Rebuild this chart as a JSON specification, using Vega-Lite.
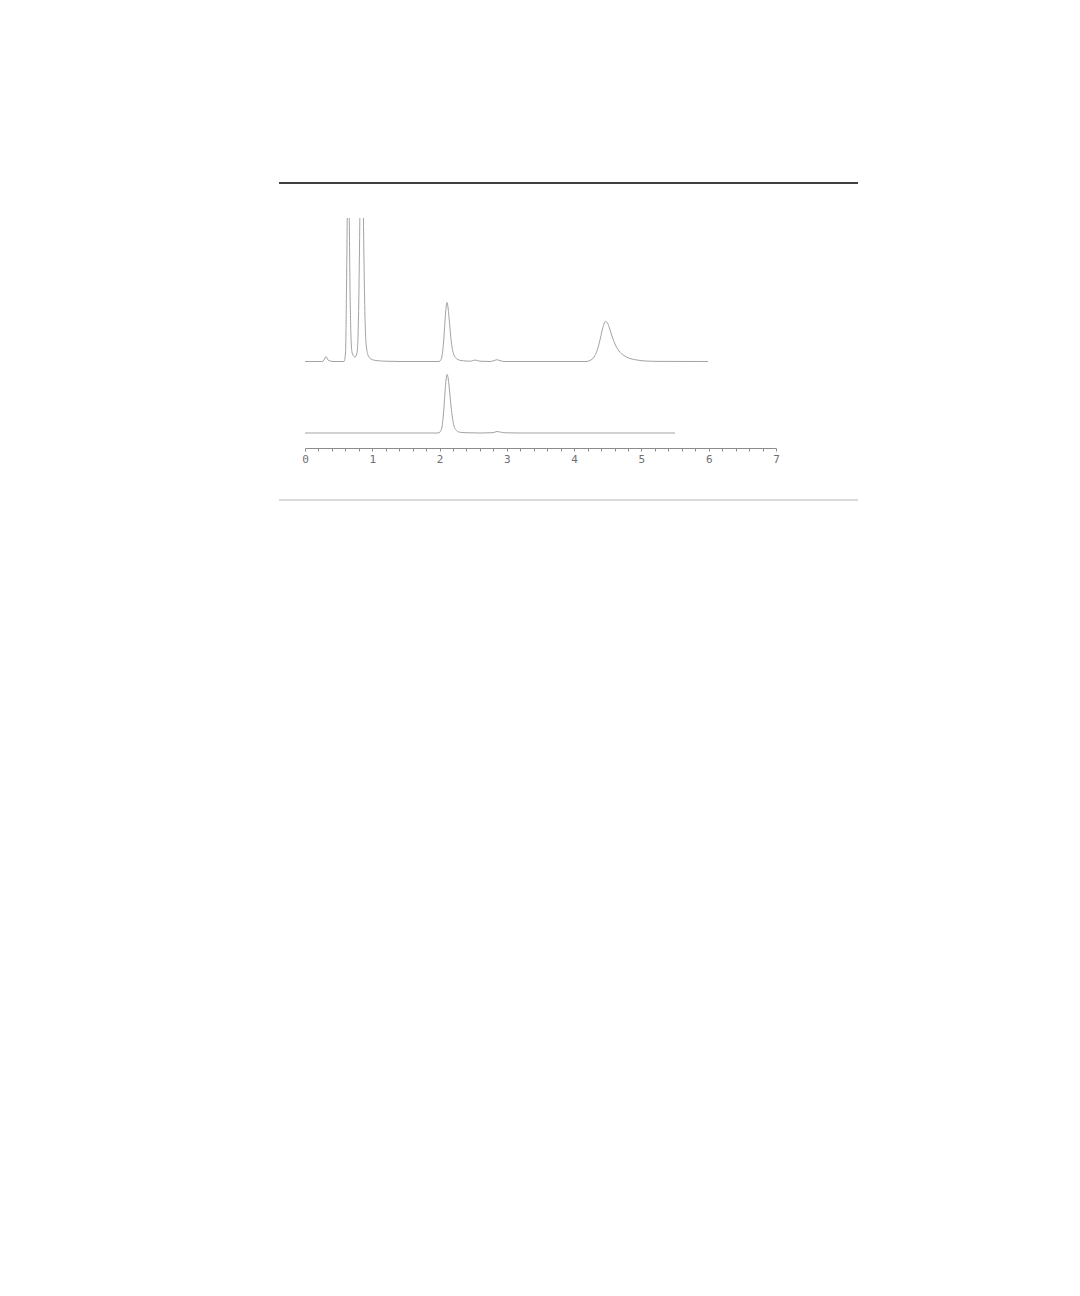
{
  "$schema": "https://vega.github.io/schema/vega-lite/v6.json",
  "autosize": "none",
  "padding": {"left": 305, "top": 218, "right": 304, "bottom": 848},
  "width": 471,
  "height": 230,
  "background": "white",
  "config": {"view": {"stroke": null}},
  "data": {
    "values": [
      {"run": "rule_top", "time": -0.3864, "time_end": 8.2187, "signal": 265},
      {"run": "rule_bottom", "time": -0.3864, "time_end": 8.2187, "signal": -52},
      {"run": "sample", "time": 0.0, "signal": 86.5},
      {"run": "sample", "time": 0.253, "signal": 86.5},
      {"run": "sample", "time": 0.282, "signal": 88},
      {"run": "sample", "time": 0.312, "signal": 91.5},
      {"run": "sample", "time": 0.342, "signal": 88},
      {"run": "sample", "time": 0.372, "signal": 87},
      {"run": "sample", "time": 0.431, "signal": 86.5},
      {"run": "sample", "time": 0.58, "signal": 86.5},
      {"run": "sample", "time": 0.602, "signal": 95},
      {"run": "sample", "time": 0.617, "signal": 160},
      {"run": "sample", "time": 0.632, "signal": 260},
      {"run": "sample", "time": 0.643, "signal": 330},
      {"run": "sample", "time": 0.654, "signal": 260},
      {"run": "sample", "time": 0.669, "signal": 160},
      {"run": "sample", "time": 0.684, "signal": 110},
      {"run": "sample", "time": 0.698, "signal": 96},
      {"run": "sample", "time": 0.728, "signal": 91.5},
      {"run": "sample", "time": 0.743, "signal": 91},
      {"run": "sample", "time": 0.773, "signal": 95},
      {"run": "sample", "time": 0.795, "signal": 130},
      {"run": "sample", "time": 0.81, "signal": 200},
      {"run": "sample", "time": 0.825, "signal": 290},
      {"run": "sample", "time": 0.843, "signal": 340},
      {"run": "sample", "time": 0.859, "signal": 290},
      {"run": "sample", "time": 0.874, "signal": 200},
      {"run": "sample", "time": 0.892, "signal": 130},
      {"run": "sample", "time": 0.907, "signal": 105},
      {"run": "sample", "time": 0.936, "signal": 93},
      {"run": "sample", "time": 0.981, "signal": 89},
      {"run": "sample", "time": 1.055, "signal": 87.5},
      {"run": "sample", "time": 1.189, "signal": 86.8},
      {"run": "sample", "time": 1.412, "signal": 86.5},
      {"run": "sample", "time": 1.977, "signal": 86.5},
      {"run": "sample", "time": 2.006, "signal": 87},
      {"run": "sample", "time": 2.036, "signal": 92},
      {"run": "sample", "time": 2.058, "signal": 105},
      {"run": "sample", "time": 2.081, "signal": 127},
      {"run": "sample", "time": 2.096, "signal": 140},
      {"run": "sample", "time": 2.11, "signal": 145.5},
      {"run": "sample", "time": 2.125, "signal": 141},
      {"run": "sample", "time": 2.14, "signal": 131},
      {"run": "sample", "time": 2.162, "signal": 114},
      {"run": "sample", "time": 2.185, "signal": 101},
      {"run": "sample", "time": 2.214, "signal": 93},
      {"run": "sample", "time": 2.259, "signal": 89},
      {"run": "sample", "time": 2.318, "signal": 87.5},
      {"run": "sample", "time": 2.393, "signal": 87},
      {"run": "sample", "time": 2.46, "signal": 86.8},
      {"run": "sample", "time": 2.527, "signal": 88},
      {"run": "sample", "time": 2.601, "signal": 86.8},
      {"run": "sample", "time": 2.75, "signal": 86.5},
      {"run": "sample", "time": 2.794, "signal": 87},
      {"run": "sample", "time": 2.853, "signal": 88.3},
      {"run": "sample", "time": 2.898, "signal": 87.3},
      {"run": "sample", "time": 2.972, "signal": 86.5},
      {"run": "sample", "time": 4.176, "signal": 86.5},
      {"run": "sample", "time": 4.235, "signal": 87.5},
      {"run": "sample", "time": 4.295, "signal": 91},
      {"run": "sample", "time": 4.339, "signal": 97},
      {"run": "sample", "time": 4.384, "signal": 108},
      {"run": "sample", "time": 4.414, "signal": 117},
      {"run": "sample", "time": 4.444, "signal": 124},
      {"run": "sample", "time": 4.469, "signal": 126.7},
      {"run": "sample", "time": 4.496, "signal": 125},
      {"run": "sample", "time": 4.525, "signal": 120},
      {"run": "sample", "time": 4.562, "signal": 112},
      {"run": "sample", "time": 4.607, "signal": 104},
      {"run": "sample", "time": 4.667, "signal": 97},
      {"run": "sample", "time": 4.741, "signal": 92.5},
      {"run": "sample", "time": 4.83, "signal": 89.5},
      {"run": "sample", "time": 4.934, "signal": 88},
      {"run": "sample", "time": 5.053, "signal": 87},
      {"run": "sample", "time": 5.276, "signal": 86.6},
      {"run": "sample", "time": 5.989, "signal": 86.5},
      {"run": "standard", "time": 0.0, "signal": 15},
      {"run": "standard", "time": 1.977, "signal": 15},
      {"run": "standard", "time": 2.006, "signal": 16},
      {"run": "standard", "time": 2.036, "signal": 21},
      {"run": "standard", "time": 2.058, "signal": 34},
      {"run": "standard", "time": 2.081, "signal": 56},
      {"run": "standard", "time": 2.096, "signal": 68},
      {"run": "standard", "time": 2.114, "signal": 73.7},
      {"run": "standard", "time": 2.129, "signal": 69},
      {"run": "standard", "time": 2.147, "signal": 58},
      {"run": "standard", "time": 2.17, "signal": 42},
      {"run": "standard", "time": 2.192, "signal": 30},
      {"run": "standard", "time": 2.214, "signal": 22},
      {"run": "standard", "time": 2.244, "signal": 18},
      {"run": "standard", "time": 2.288, "signal": 16},
      {"run": "standard", "time": 2.378, "signal": 15.3},
      {"run": "standard", "time": 2.601, "signal": 15},
      {"run": "standard", "time": 2.794, "signal": 15.3},
      {"run": "standard", "time": 2.853, "signal": 16.5},
      {"run": "standard", "time": 2.898, "signal": 16},
      {"run": "standard", "time": 2.972, "signal": 15.2},
      {"run": "standard", "time": 3.195, "signal": 15},
      {"run": "standard", "time": 5.5, "signal": 15}
    ]
  },
  "encoding": {
    "x": {
      "field": "time",
      "type": "quantitative",
      "scale": {"domain": [0, 7], "nice": false, "zero": false},
      "axis": {
        "title": null,
        "grid": false,
        "values": [0, 0.2, 0.4, 0.6, 0.8, 1, 1.2, 1.4, 1.6, 1.8, 2, 2.2, 2.4, 2.6, 2.8, 3, 3.2, 3.4, 3.6, 3.8, 4, 4.2, 4.4, 4.6, 4.8, 5, 5.2, 5.4, 5.6, 5.8, 6, 6.2, 6.4, 6.6, 6.8, 7],
        "labelExpr": "datum.value % 1 === 0 ? format(datum.value, 'd') : ''",
        "labelOverlap": false,
        "labelFlush": false,
        "domainColor": "#8c8c8c",
        "tickColor": "#8c8c8c",
        "tickSize": 3,
        "labelColor": "#6e6e6e",
        "labelFont": "DejaVu Sans Mono",
        "labelFontSize": 11,
        "labelPadding": 2
      }
    },
    "y": {
      "field": "signal",
      "type": "quantitative",
      "scale": {"domain": [0, 230], "nice": false, "zero": false},
      "axis": null
    }
  },
  "layer": [
    {
      "transform": [{"filter": "datum.run === 'rule_top'"}],
      "mark": {"type": "rule", "color": "#000000", "strokeWidth": 1.3},
      "encoding": {"x2": {"field": "time_end"}}
    },
    {
      "transform": [{"filter": "datum.run === 'rule_bottom'"}],
      "mark": {"type": "rule", "color": "#b4b4b4", "strokeWidth": 1},
      "encoding": {"x2": {"field": "time_end"}}
    },
    {
      "transform": [{"filter": "datum.run === 'sample' || datum.run === 'standard'"}],
      "mark": {"type": "line", "clip": true, "color": "#a3a3a3", "strokeWidth": 1, "interpolate": "monotone"},
      "encoding": {"detail": {"field": "run", "type": "nominal"}}
    }
  ]
}
